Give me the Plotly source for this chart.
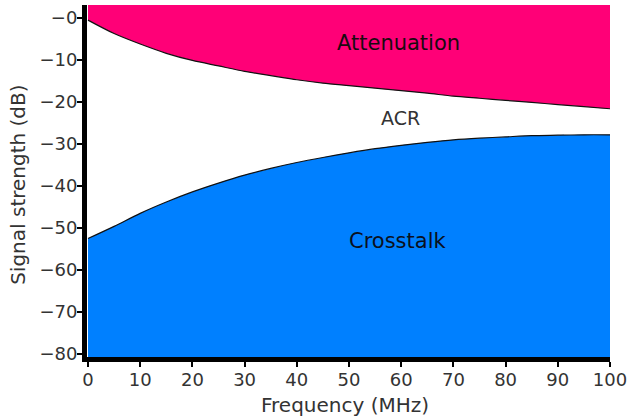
import plotly.graph_objects as go

# Data
freq = [0, 5, 10, 15, 20, 25, 30, 35, 40, 45, 50, 55, 60, 65, 70, 75, 80, 85, 90, 95, 100]
attenuation = [-0.5, -3.7, -6.2, -8.4, -10.1, -11.4, -12.7, -13.7, -14.7, -15.5, -16.1,
               -16.7, -17.3, -17.9, -18.6, -19.1, -19.6, -20.1, -20.6, -21.1, -21.6]
crosstalk = [-52.5, -49.6, -46.5, -43.8, -41.4, -39.3, -37.4, -35.8, -34.4, -33.2, -32.1,
             -31.1, -30.3, -29.6, -29.0, -28.6, -28.3, -28.0, -27.9, -27.8, -27.8]
x_ticks = [0, 10, 20, 30, 40, 50, 60, 70, 80, 90, 100]
y_ticks = [0, -10, -20, -30, -40, -50, -60, -70, -80]
y_ticktext = ["\u22120", "\u221210", "\u221220", "\u221230", "\u221240",
              "\u221250", "\u221260", "\u221270", "\u221280"]

PINK = "#FF0077"
BLUE = "#0080FF"
FONT = "DejaVu Sans"
TXT = "#333333"

top_fill_level = 50
bottom_fill_level = -150

fig = go.Figure()
fig.add_trace(go.Scatter(x=freq, y=[top_fill_level] * len(freq), mode="lines",
                         line=dict(width=0, color=PINK), hoverinfo="skip", showlegend=False))
fig.add_trace(go.Scatter(x=freq, y=attenuation, mode="lines", fill="tonexty",
                         fillcolor=PINK, line=dict(color="#111111", width=1.2, shape="spline", smoothing=0.8),
                         name="Attenuation", showlegend=False))
fig.add_trace(go.Scatter(x=freq, y=[bottom_fill_level] * len(freq), mode="lines",
                         line=dict(width=0, color=BLUE), hoverinfo="skip", showlegend=False))
fig.add_trace(go.Scatter(x=freq, y=crosstalk, mode="lines", fill="tonexty",
                         fillcolor=BLUE, line=dict(color="#111111", width=1.2, shape="spline", smoothing=0.8),
                         name="Crosstalk", showlegend=False))

fig.add_annotation(x=59.4, y=-6.0, text="Attenuation", showarrow=False,
                   font=dict(family=FONT, size=21, color="#1a0a10"))
fig.add_annotation(x=59.8, y=-23.8, text="ACR", showarrow=False,
                   font=dict(family=FONT, size=19, color=TXT))
fig.add_annotation(x=59.4, y=-53.2, text="Crosstalk", showarrow=False,
                   font=dict(family=FONT, size=21, color="#0a1020"))

# axis titles
fig.add_annotation(xref="paper", yref="paper", x=-0.132, y=0.489, text="Signal strength (dB)",
                   xanchor="center", yanchor="middle",
                   textangle=-90, showarrow=False, font=dict(family=FONT, size=20, color=TXT))
fig.add_annotation(xref="paper", yref="paper", x=0.493, y=-0.136, text="Frequency (MHz)",
                   xanchor="center", yanchor="middle",
                   showarrow=False, font=dict(family=FONT, size=20, color=TXT))

fig.update_layout(
    width=627, height=417,
    margin=dict(l=87, r=17, t=5, b=60, autoexpand=False),
    paper_bgcolor="white", plot_bgcolor="white",
    font=dict(family=FONT, size=18, color=TXT),
    xaxis=dict(range=[-0.19, 100], tickvals=x_ticks, ticks="outside", ticklen=5,
               tickwidth=1.5, tickcolor="black", showline=True, linecolor="black",
               linewidth=5, showgrid=False, zeroline=False, automargin=False,
               ticklabeloverflow="allow", ticklabelstandoff=-3,
               tickfont=dict(size=18, color=TXT)),
    yaxis=dict(range=[-80.7, 3.1], tickvals=y_ticks, ticktext=y_ticktext, ticks="outside",
               ticklen=5, tickwidth=1.5, tickcolor="black", showline=True, linecolor="black",
               linewidth=5, showgrid=False, zeroline=False, automargin=False,
               ticklabeloverflow="allow", ticklabelstandoff=-4,
               tickfont=dict(size=18, color=TXT)),
)

fig.write_html("out.html", config={"displayModeBar": False},
               post_script="document.body.style.margin='0';document.body.style.overflow='hidden';")
